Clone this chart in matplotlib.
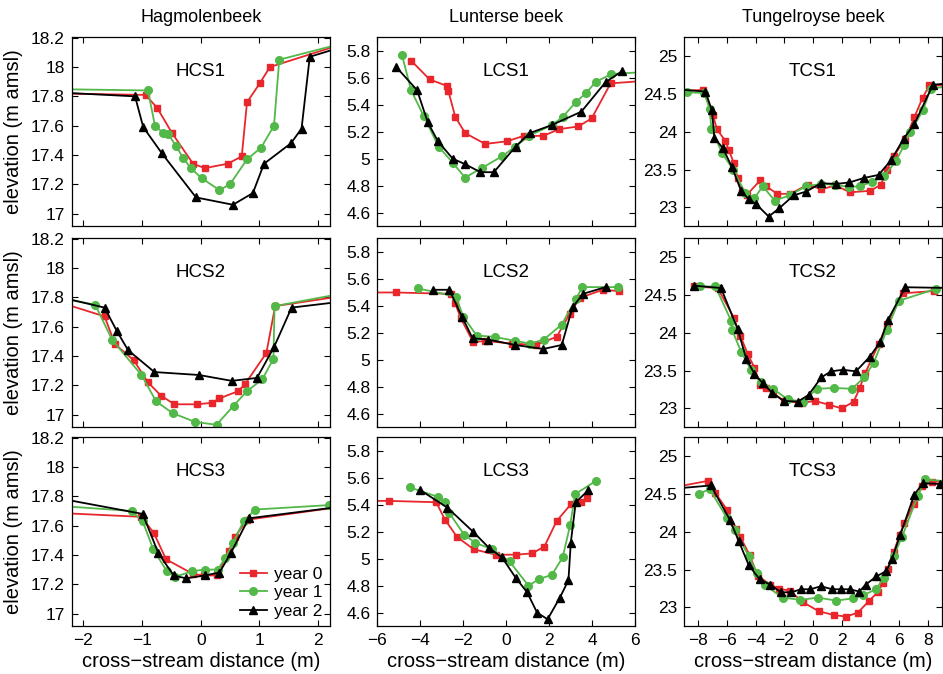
import matplotlib
matplotlib.use("Agg")
import matplotlib.pyplot as plt

plt.rcParams['font.family'] = ['Liberation Sans', 'DejaVu Sans']

# ---- data: cross-section elevation (m amsl) vs cross-stream distance (m) ----
# points outside the x limits only carry the line to the frame edge

# Hagmolenbeek
hcs1_x0 = [-2.6, -0.94, -0.74, -0.49, -0.13, 0.07, 0.46, 0.70, 0.79, 1.01, 1.18, 2.6]
hcs1_z0 = [17.82, 17.81, 17.72, 17.55, 17.34, 17.31, 17.34, 17.39, 17.76, 17.89, 18.00, 18.18]
hcs1_x1 = [-2.6, -0.90, -0.78, -0.64, -0.55, -0.42, -0.30, -0.17, 0.02, 0.32, 0.50, 0.79, 1.03, 1.25, 1.34, 2.6]
hcs1_z1 = [17.85, 17.84, 17.60, 17.55, 17.54, 17.46, 17.38, 17.31, 17.24, 17.16, 17.20, 17.37, 17.45, 17.60, 18.05, 18.18]
hcs1_x2 = [-2.6, -1.12, -0.98, -0.66, -0.08, 0.55, 0.89, 1.08, 1.54, 1.72, 1.86, 2.6]
hcs1_z2 = [17.83, 17.80, 17.59, 17.41, 17.11, 17.06, 17.14, 17.34, 17.48, 17.58, 18.07, 18.16]

hcs2_x0 = [-2.6, -1.64, -1.46, -1.14, -0.90, -0.68, -0.45, -0.06, 0.19, 0.32, 0.64, 0.76, 1.12, 1.27, 2.6]
hcs2_z0 = [17.79, 17.67, 17.48, 17.37, 17.22, 17.13, 17.07, 17.07, 17.08, 17.11, 17.16, 17.21, 17.42, 17.74, 17.82]
hcs2_x1 = [-2.6, -1.80, -1.51, -1.01, -0.76, -0.48, -0.10, 0.27, 0.56, 0.79, 1.05, 1.24, 1.26, 2.6]
hcs2_z1 = [17.81, 17.75, 17.51, 17.27, 17.09, 17.01, 16.95, 16.93, 17.06, 17.16, 17.24, 17.38, 17.74, 17.84]
hcs2_x2 = [-2.6, -1.64, -1.43, -1.24, -0.79, -0.03, 0.53, 0.96, 1.25, 1.55, 2.6]
hcs2_z2 = [17.82, 17.73, 17.57, 17.44, 17.29, 17.27, 17.23, 17.25, 17.46, 17.73, 17.78]

hcs3_x0 = [-2.6, -1.01, -0.80, -0.59, -0.13, 0.05, 0.28, 0.48, 0.58, 0.79, 2.6]
hcs3_z0 = [17.69, 17.66, 17.55, 17.37, 17.27, 17.26, 17.26, 17.43, 17.52, 17.64, 17.74]
hcs3_x1 = [-2.6, -1.18, -0.99, -0.81, -0.58, -0.44, -0.14, 0.08, 0.29, 0.42, 0.55, 0.73, 0.93, 2.18]
hcs3_z1 = [17.74, 17.70, 17.63, 17.44, 17.29, 17.25, 17.29, 17.30, 17.30, 17.38, 17.48, 17.63, 17.71, 17.74]
hcs3_x2 = [-2.6, -0.99, -0.72, -0.46, -0.25, 0.07, 0.32, 0.51, 0.82, 2.6]
hcs3_z2 = [17.80, 17.68, 17.41, 17.26, 17.24, 17.26, 17.28, 17.41, 17.65, 17.74]

# Lunterse beek
lcs1_x0 = [-4.43, -3.57, -2.74, -2.69, -2.37, -1.91, -0.98, 0.05, 0.80, 1.72, 2.46, 3.35, 3.97, 4.85, 6.5]
lcs1_z0 = [5.73, 5.59, 5.54, 5.50, 5.31, 5.19, 5.11, 5.13, 5.17, 5.17, 5.22, 5.24, 5.30, 5.56, 5.58]
lcs1_x1 = [-4.85, -4.43, -3.85, -3.15, -2.49, -1.92, -1.15, -0.18, 0.42, 1.05, 2.12, 2.62, 3.23, 3.72, 4.15, 4.89, 6.5]
lcs1_z1 = [5.77, 5.51, 5.32, 5.09, 4.97, 4.86, 4.93, 5.02, 5.09, 5.17, 5.25, 5.31, 5.42, 5.49, 5.57, 5.63, 5.645]
lcs1_x2 = [-5.11, -4.15, -3.65, -3.18, -2.49, -1.92, -1.20, -0.58, 0.43, 1.08, 2.11, 3.49, 4.62, 5.38]
lcs1_z2 = [5.68, 5.51, 5.27, 5.13, 5.00, 4.96, 4.90, 4.90, 5.09, 5.19, 5.25, 5.35, 5.57, 5.65]

lcs2_x0 = [-6.5, -5.15, -2.58, -2.38, -2.12, -1.54, -0.98, 0.28, 1.38, 2.34, 2.95, 3.42, 4.49, 5.26]
lcs2_z0 = [5.50, 5.50, 5.49, 5.42, 5.31, 5.13, 5.14, 5.12, 5.11, 5.17, 5.34, 5.46, 5.52, 5.51]
lcs2_x1 = [-4.11, -2.34, -2.00, -1.38, -0.54, 0.42, 1.11, 1.74, 2.57, 3.23, 3.54, 5.20]
lcs2_z1 = [5.53, 5.47, 5.32, 5.18, 5.17, 5.14, 5.12, 5.15, 5.26, 5.45, 5.54, 5.54]
lcs2_x2 = [-3.42, -2.65, -2.06, -1.57, -0.85, 0.40, 1.72, 2.58, 3.08, 3.57, 4.62]
lcs2_z2 = [5.52, 5.52, 5.32, 5.16, 5.15, 5.11, 5.08, 5.11, 5.39, 5.49, 5.54]

lcs3_x0 = [-6.5, -5.45, -3.26, -2.85, -2.28, -1.51, -0.49, 0.46, 1.20, 1.77, 2.34, 3.03, 3.49, 3.77]
lcs3_z0 = [5.43, 5.43, 5.42, 5.29, 5.16, 5.07, 5.03, 5.03, 5.04, 5.09, 5.28, 5.41, 5.42, 5.45]
lcs3_x1 = [-4.49, -3.18, -2.85, -2.65, -1.97, -1.46, -0.66, 0.15, 1.03, 1.54, 2.12, 2.62, 2.97, 3.20, 4.18]
lcs3_z1 = [5.53, 5.46, 5.42, 5.34, 5.18, 5.12, 5.07, 4.98, 4.80, 4.85, 4.88, 5.01, 5.25, 5.48, 5.58]
lcs3_x2 = [-4.00, -2.74, -1.54, -0.80, -0.20, 0.43, 0.97, 1.43, 1.92, 2.49, 2.89, 3.00, 3.23, 3.82]
lcs3_z2 = [5.51, 5.38, 5.20, 5.08, 5.01, 4.86, 4.75, 4.60, 4.55, 4.71, 4.84, 5.12, 5.42, 5.51]

# Tungelroyse beek
tcs1_x0 = [-9.6, -7.67, -6.98, -6.70, -6.12, -5.88, -5.53, -5.26, -4.95, -4.60, -3.67, -3.26, -2.51, -1.58,
           -0.37, 0.58, 1.56, 2.60, 4.00, 4.74, 5.16, 5.63, 6.44, 7.07, 7.65, 8.12, 9.6]
tcs1_z0 = [24.54, 24.55, 24.22, 24.03, 23.88, 23.76, 23.59, 23.39, 23.21, 23.17, 23.36, 23.28, 23.18, 23.18,
           23.30, 23.24, 23.29, 23.20, 23.22, 23.30, 23.50, 23.68, 23.90, 24.19, 24.45, 24.61, 24.61]
tcs1_x1 = [-9.6, -8.79, -7.58, -7.21, -7.09, -6.35, -5.58, -4.72, -4.09, -3.51, -2.67, -1.63, -0.49, 0.58,
           1.56, 2.49, 3.30, 4.12, 4.93, 5.79, 6.37, 6.74, 7.67, 8.2, 9.6]
tcs1_z1 = [24.53, 24.52, 24.51, 24.30, 24.04, 23.72, 23.50, 23.19, 23.12, 23.28, 23.09, 23.16, 23.28, 23.31,
           23.30, 23.27, 23.28, 23.34, 23.41, 23.61, 23.83, 23.99, 24.28, 24.57, 24.60]
tcs1_x2 = [-9.6, -7.51, -7.05, -6.88, -6.28, -5.65, -5.02, -4.49, -3.95, -3.09, -2.35, -1.35, -0.47, 0.56,
           1.60, 2.53, 3.58, 4.58, 5.47, 6.33, 7.07, 8.37, 9.6]
tcs1_z2 = [24.56, 24.53, 24.28, 23.92, 23.78, 23.53, 23.22, 23.11, 23.04, 22.88, 22.99, 23.16, 23.21, 23.32,
           23.31, 23.33, 23.39, 23.43, 23.63, 23.91, 24.10, 24.62, 24.64]

tcs2_x0 = [-8.33, -6.65, -5.53, -5.07, -4.56, -4.09, -3.67, -3.28, -2.79, -2.05, -0.77, 0.12, 1.09, 2.02,
           2.84, 3.26, 3.65, 4.58, 5.16, 6.28, 8.42]
tcs2_z0 = [24.61, 24.59, 24.20, 23.96, 23.72, 23.54, 23.31, 23.27, 23.20, 23.10, 23.07, 23.10, 23.05, 23.00,
           23.09, 23.27, 23.47, 23.85, 24.11, 24.52, 24.55]
tcs2_x1 = [-7.86, -6.81, -5.72, -5.65, -5.02, -4.33, -3.63, -2.79, -1.77, -0.70, 0.28, 1.44, 2.72, 3.58,
           4.23, 5.16, 5.98, 8.60]
tcs2_z1 = [24.61, 24.61, 24.16, 24.04, 23.75, 23.51, 23.35, 23.26, 23.12, 23.09, 23.26, 23.27, 23.26, 23.41,
           23.60, 24.04, 24.42, 24.58]
tcs2_x2 = [-8.28, -6.42, -5.26, -4.65, -4.09, -3.49, -2.86, -2.05, -1.05, -0.30, 0.58, 1.26, 2.07, 3.00,
           3.95, 4.70, 5.23, 6.44, 9.6]
tcs2_z2 = [24.62, 24.59, 24.05, 23.65, 23.46, 23.33, 23.21, 23.10, 23.09, 23.18, 23.41, 23.49, 23.51, 23.49,
           23.68, 23.88, 24.17, 24.60, 24.59]

tcs3_x0 = [-9.6, -7.35, -6.81, -6.00, -5.35, -5.07, -4.42, -3.86, -2.98, -2.40, -1.63, -0.70, 0.40, 1.44,
           2.30, 3.12, 3.88, 4.51, 4.88, 5.21, 5.63, 6.05, 6.37, 7.02, 7.60, 8.3, 9.6]
tcs3_z0 = [24.59, 24.67, 24.51, 24.29, 24.04, 23.93, 23.69, 23.42, 23.30, 23.25, 23.22, 23.07, 22.95, 22.90,
           22.88, 22.93, 23.08, 23.20, 23.32, 23.51, 23.73, 23.96, 24.11, 24.36, 24.60, 24.66, 24.66]
tcs3_x1 = [-7.98, -7.21, -6.00, -5.47, -4.49, -3.91, -3.33, -2.12, -0.88, 0.33, 1.63, 2.79, 3.49, 4.40,
           4.93, 5.63, 6.21, 7.30, 7.84, 9.6]
tcs3_z1 = [24.50, 24.56, 24.18, 24.02, 23.68, 23.46, 23.29, 23.13, 23.10, 23.13, 23.09, 23.12, 23.16, 23.24,
           23.39, 23.68, 23.93, 24.47, 24.69, 24.66]
tcs3_x2 = [-9.6, -7.12, -5.81, -5.19, -4.49, -3.72, -2.98, -2.23, -1.51, -0.84, -0.19, 0.56, 1.33, 1.98,
           2.56, 3.23, 3.67, 4.42, 5.12, 5.51, 6.09, 7.07, 7.67, 8.84, 9.6]
tcs3_z2 = [24.57, 24.61, 24.16, 23.88, 23.56, 23.37, 23.30, 23.20, 23.20, 23.24, 23.24, 23.28, 23.24, 23.24,
           23.24, 23.21, 23.30, 23.41, 23.48, 23.64, 23.96, 24.49, 24.64, 24.63, 24.62]

streams = ['Hagmolenbeek', 'Lunterse beek', 'Tungelroyse beek']
years = ['year 0', 'year 1', 'year 2']

panels = [
    [('HCS1', [(hcs1_x0, hcs1_z0), (hcs1_x1, hcs1_z1), (hcs1_x2, hcs1_z2)]),
     ('LCS1', [(lcs1_x0, lcs1_z0), (lcs1_x1, lcs1_z1), (lcs1_x2, lcs1_z2)]),
     ('TCS1', [(tcs1_x0, tcs1_z0), (tcs1_x1, tcs1_z1), (tcs1_x2, tcs1_z2)])],
    [('HCS2', [(hcs2_x0, hcs2_z0), (hcs2_x1, hcs2_z1), (hcs2_x2, hcs2_z2)]),
     ('LCS2', [(lcs2_x0, lcs2_z0), (lcs2_x1, lcs2_z1), (lcs2_x2, lcs2_z2)]),
     ('TCS2', [(tcs2_x0, tcs2_z0), (tcs2_x1, tcs2_z1), (tcs2_x2, tcs2_z2)])],
    [('HCS3', [(hcs3_x0, hcs3_z0), (hcs3_x1, hcs3_z1), (hcs3_x2, hcs3_z2)]),
     ('LCS3', [(lcs3_x0, lcs3_z0), (lcs3_x1, lcs3_z1), (lcs3_x2, lcs3_z2)]),
     ('TCS3', [(tcs3_x0, tcs3_z0), (tcs3_x1, tcs3_z1), (tcs3_x2, tcs3_z2)])],
]

xlims = [(-2.2, 2.2), (-6, 6), (-9, 9)]
ylims = [(16.915, 18.205), (4.5, 5.905), (22.755, 25.25)]
xticks = [[-2, -1, 0, 1, 2], [-6, -4, -2, 0, 2, 4, 6], [-8, -6, -4, -2, 0, 2, 4, 6, 8]]
yticks = [[17, 17.2, 17.4, 17.6, 17.8, 18, 18.2],
          [4.6, 4.8, 5, 5.2, 5.4, 5.6, 5.8],
          [23, 23.5, 24, 24.5, 25]]
ytick_labels = [['17', '17.2', '17.4', '17.6', '17.8', '18', '18.2'],
                ['4.6', '4.8', '5', '5.2', '5.4', '5.6', '5.8'],
                ['23', '23.5', '24', '24.5', '25']]

colors = ['#e8262b', '#52b848', 'black']
markers = ['s', 'o', '^']
msizes = [4.5, 5.5, 5.5]

# layout in pixels
W, H = 943, 674
col_left = [71.7, 377.3, 684]
row_top = [37, 238, 437]
ax_w, ax_h = 258, 189

fig = plt.figure(figsize=(W / 100, H / 100), dpi=100)

for r in range(3):
    for c in range(3):
        ax = fig.add_axes([col_left[c] / W, 1 - (row_top[r] + ax_h) / H, ax_w / W, ax_h / H])
        name, series = panels[r][c]
        for k, (xs, zs) in enumerate(series):
            ax.plot(xs, zs, color=colors[k], marker=markers[k], ms=msizes[k],
                    mec=colors[k], lw=1.3, label=years[k])
        ax.set_xlim(xlims[c])
        ax.set_ylim(ylims[c])
        ax.set_xticks(xticks[c])
        ax.set_yticks(yticks[c])
        ax.set_yticklabels(ytick_labels[c])
        ax.tick_params(direction='in', top=True, right=True, length=4, width=0.8,
                       labelsize=12.5, pad=5)
        if r < 2:
            ax.set_xticklabels([])
        else:
            ax.set_xticklabels(['\u2212' + str(-t) if t < 0 else str(t) for t in xticks[c]])
            ax.set_xlabel('cross\u2212stream distance (m)', fontsize=14.5, labelpad=3)
        if c == 0:
            ax.set_ylabel('elevation (m amsl)', fontsize=14.5, labelpad=6)
        ax.text(0.5, 0.82, name, transform=ax.transAxes, ha='center', va='center', fontsize=13.5)
        for sp in ax.spines.values():
            sp.set_linewidth(0.9)
        if r == 2 and c == 0:
            ax.legend(loc='lower right', frameon=False, fontsize=12.5, handlelength=1.6,
                      handletextpad=0.4, labelspacing=0.2, borderaxespad=0.0,
                      bbox_to_anchor=(1.0, 0.0))

for c in range(3):
    fig.text((col_left[c] + ax_w / 2) / W, 1 - 18 / H, streams[c], ha='center', va='center', fontsize=13)

fig.savefig('out.png', dpi=100)
